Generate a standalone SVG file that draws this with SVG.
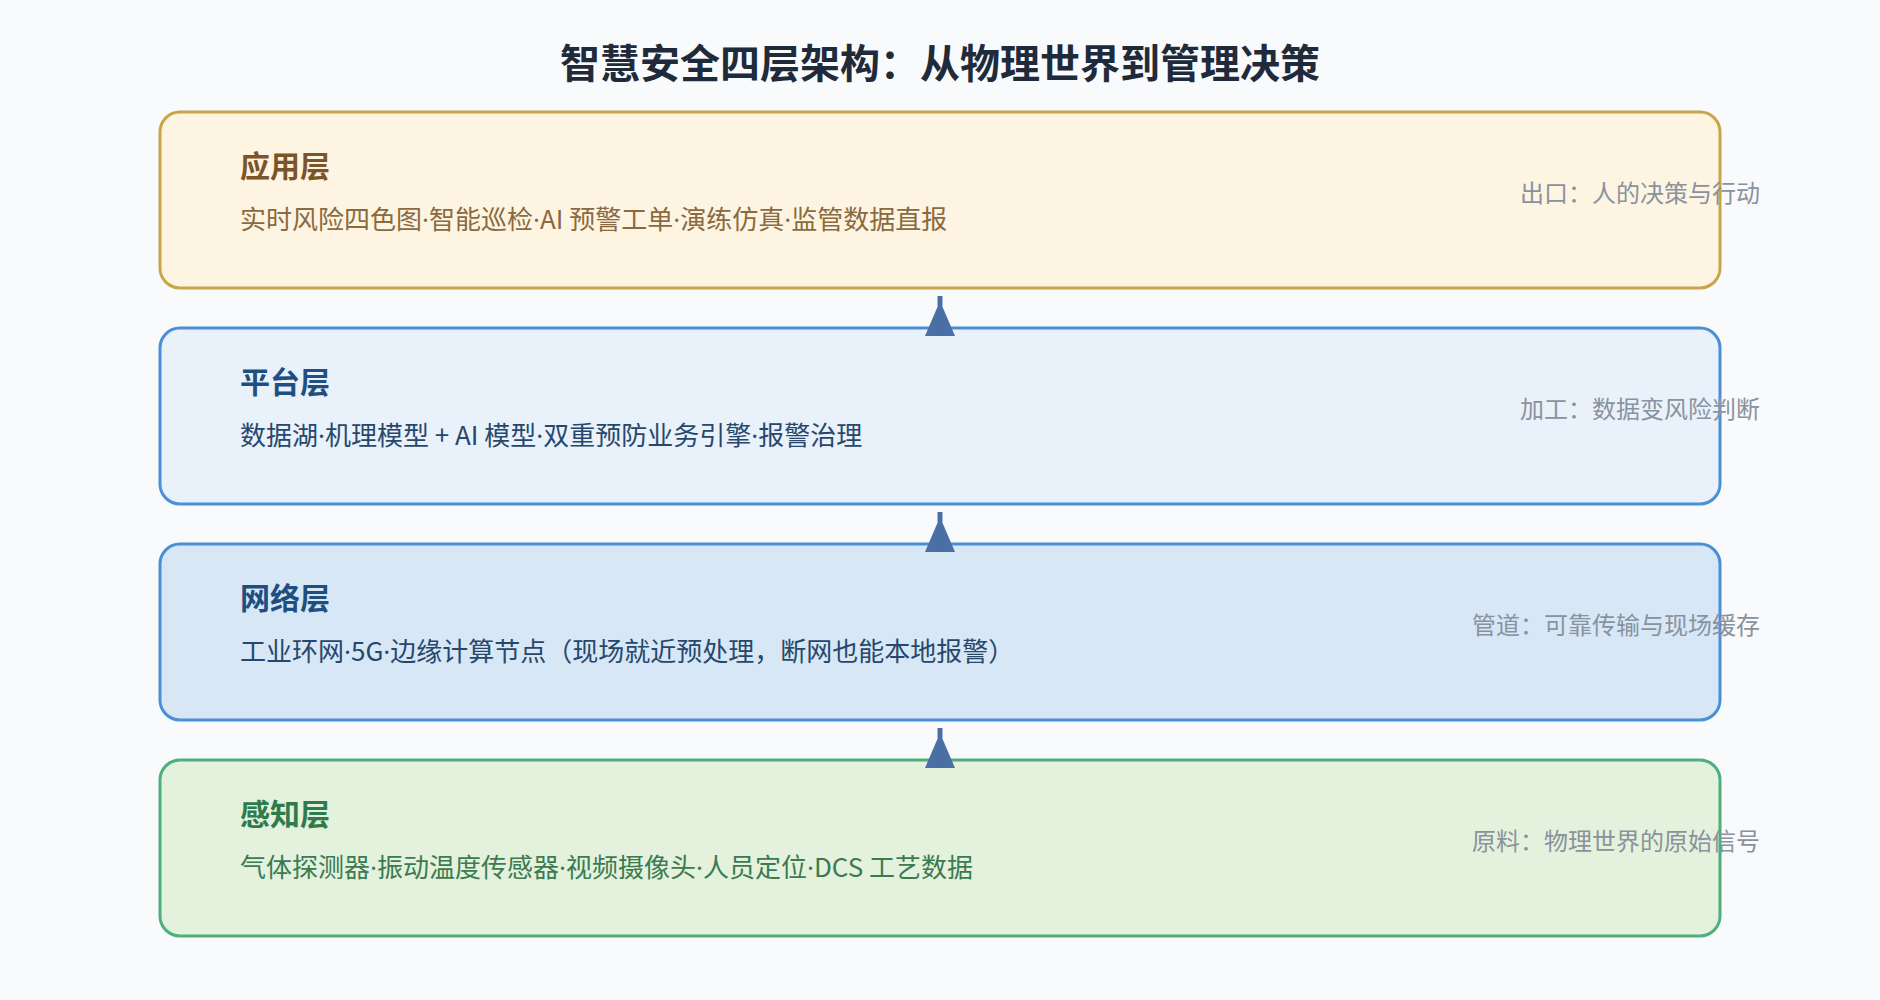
<svg xmlns="http://www.w3.org/2000/svg" width="1880" height="1000" viewBox="0 0 1880 1000">
  <style>
    text { font-family: "Noto Sans CJK SC", "Noto Sans", sans-serif; }
    .title { font-size: 40px; font-weight: 700; fill: #1f2b3b; }
    .head { font-size: 30px; font-weight: 700; }
    .body { font-size: 26px; }
    .dot { font-family: "Noto Sans", sans-serif; }
    .note { font-size: 24px; fill: #8a929d; text-anchor: end; }
    .box { stroke-width: 3; }
    .arrow { fill: #4a6fa5; stroke: none; }
  </style>
  <rect x="0" y="0" width="1880" height="1000" fill="#f8fafc"/>
  <text class="title" x="940" y="78" text-anchor="middle">智慧安全四层架构：从物理世界到管理决策</text>

  <g id="layer-app">
    <rect class="box" x="160" y="112" width="1560" height="176" rx="20" fill="#fef4e2" stroke="#c9a54a"/>
    <text class="head" x="240" y="177" fill="#7b5427">应用层</text>
    <text class="body" x="240" y="229" fill="#8a6a3e">实时风险四色图<tspan class="dot">·</tspan>智能巡检<tspan class="dot">·</tspan>AI 预警工单<tspan class="dot">·</tspan>演练仿真<tspan class="dot">·</tspan>监管数据直报</text>
    <text class="note" x="1760" y="202">出口：人的决策与行动</text>
  </g>

  <g id="layer-platform">
    <rect class="box" x="160" y="328" width="1560" height="176" rx="20" fill="#e9f1fb" stroke="#4a8fd7"/>
    <text class="head" x="240" y="393" fill="#1f4e80">平台层</text>
    <text class="body" x="240" y="445" fill="#27486c">数据湖<tspan class="dot">·</tspan>机理模型 + AI 模型<tspan class="dot">·</tspan>双重预防业务引擎<tspan class="dot">·</tspan>报警治理</text>
    <text class="note" x="1760" y="418">加工：数据变风险判断</text>
  </g>

  <g id="layer-network">
    <rect class="box" x="160" y="544" width="1560" height="176" rx="20" fill="#d7e7f6" stroke="#4a8fd7"/>
    <text class="head" x="240" y="609" fill="#1f4e80">网络层</text>
    <text class="body" x="240" y="661" fill="#27486c">工业环网<tspan class="dot">·</tspan>5G<tspan class="dot">·</tspan>边缘计算节点（现场就近预处理，断网也能本地报警）</text>
    <text class="note" x="1760" y="634">管道：可靠传输与现场缓存</text>
  </g>

  <g id="layer-sensing">
    <rect class="box" x="160" y="760" width="1560" height="176" rx="20" fill="#e4f1dc" stroke="#4caf7d"/>
    <text class="head" x="240" y="825" fill="#2e7b4b">感知层</text>
    <text class="body" x="240" y="877" fill="#3a7b52">气体探测器<tspan class="dot">·</tspan>振动温度传感器<tspan class="dot">·</tspan>视频摄像头<tspan class="dot">·</tspan>人员定位<tspan class="dot">·</tspan>DCS 工艺数据</text>
    <text class="note" x="1760" y="850">原料：物理世界的原始信号</text>
  </g>

  <g id="connectors">
    <rect class="arrow" x="937.5" y="296" width="5" height="10"/>
    <polygon class="arrow" points="940,301 955,336 925,336"/>
    <rect class="arrow" x="937.5" y="512" width="5" height="10"/>
    <polygon class="arrow" points="940,517 955,552 925,552"/>
    <rect class="arrow" x="937.5" y="728" width="5" height="10"/>
    <polygon class="arrow" points="940,733 955,768 925,768"/>
  </g>
</svg>
